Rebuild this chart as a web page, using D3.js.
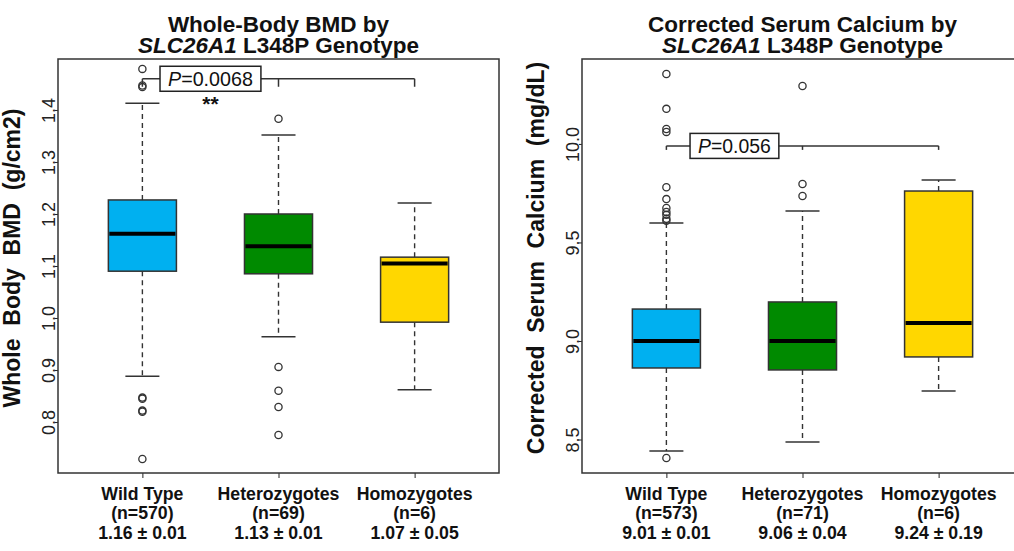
<!DOCTYPE html>
<html><head><meta charset="utf-8">
<script src="https://cdn.jsdelivr.net/npm/d3@7"></script>
<style>
body{margin:0;background:#fff;}
svg text{font-family:"Liberation Sans",Arial,sans-serif;}
</style></head>
<body><svg id="c" width="1014" height="551"></svg>
<script>
// ---------- DATA ----------
const groups = ["Wild Type","Heterozygotes","Homozygotes"];
const colors = ["#00B0F0","#008A00","#FFD700"];

// Panel A: Whole-body BMD
const bmdN = ["(n=570)","(n=69)","(n=6)"];
const bmdMeans = ["1.16 \u00B1 0.01","1.13 \u00B1 0.01","1.07 \u00B1 0.05"];
const bmdLowerWhisker = [0.888,0.964,0.862];
const bmdQ1 = [1.090,1.085,0.992];
const bmdMedian = [1.162,1.138,1.105];
const bmdQ3 = [1.227,1.200,1.117];
const bmdUpperWhisker = [1.413,1.352,1.221];
const bmdOutliers = [
  [1.479,1.447,1.444,0.847,0.845,0.822,0.820,0.729],
  [1.383,0.906,0.860,0.829,0.775],
  []
];
const bmdTicks = [0.8,0.9,1.0,1.1,1.2,1.3,1.4];
const bmdTickLabels = ["0.8","0.9","1.0","1.1","1.2","1.3","1.4"];
const bmdP = "0.0068";
const bmdPLevel = 1.46;

// Panel B: Corrected serum calcium
const caN = ["(n=573)","(n=71)","(n=6)"];
const caMeans = ["9.01 \u00B1 0.01","9.06 \u00B1 0.04","9.24 \u00B1 0.19"];
const caLowerWhisker = [8.442,8.487,8.746];
const caQ1 = [8.863,8.853,8.919];
const caMedian = [9.000,9.000,9.091];
const caQ3 = [9.162,9.198,9.761];
const caUpperWhisker = [9.599,9.660,9.817];
const caOutliers = [
  [10.355,10.178,10.076,10.061,9.780,9.720,9.675,9.655,9.640,9.620,9.610,8.406],
  [10.294,9.797,9.736],
  []
];
const caTicks = [8.5,9.0,9.5,10.0];
const caTickLabels = ["8.5","9.0","9.5","10.0"];
const caP = "0.056";
const caPLevel = 9.99;

// ---------- DRAW ----------
const svg = d3.select("#c");
const ink = "#222";

function panel(o){
  const g = svg.append("g");
  const x = d3.scaleLinear().domain([0.38,3.62]).range([o.left,o.right]);
  const y = d3.scaleLinear().domain(o.ylim).range([o.bottom,o.top]);
  const cx = i => x(i+1);
  const hw = x(1.25)-x(1);   // box half width
  const sw = x(1.125)-x(1);  // staple half width

  // title
  const mid = (o.left+o.right)/2;
  const t = g.append("text").attr("text-anchor","middle")
    .style("font-weight","bold").style("font-size","22.5px").attr("fill","#111");
  t.append("tspan").attr("x",mid).attr("y",32).text(o.title1);
  const t2 = t.append("tspan").attr("x",mid).attr("y",52.5);
  t2.append("tspan").style("font-style","italic").text("SLC26A1");
  t2.append("tspan").text(" L348P Genotype");

  // y-axis label
  g.append("text").attr("transform",`translate(${o.left-38},${(o.top+o.bottom)/2 - 8}) rotate(-90)`)
    .attr("text-anchor","middle").style("font-weight","bold").style("font-size","23px")
    .attr("fill","#111").attr("xml:space","preserve").text(o.ylab);

  // y axis
  const ya = g.append("g").attr("transform",`translate(${o.left},0)`)
    .call(d3.axisLeft(y).tickValues(o.ticks).tickFormat((d,i)=>o.tickLabels[i]).tickSize(3).tickSizeOuter(0));
  ya.select(".domain").remove();
  ya.selectAll(".tick line").attr("stroke",ink);
  ya.selectAll(".tick text").attr("transform","rotate(-90)").attr("x",0).attr("y",-3).attr("dy",0)
    .attr("text-anchor","middle").style("font-size","18px").attr("fill","#222");

  // x axis ticks
  const xa = g.append("g").attr("transform",`translate(0,${o.bottom})`)
    .call(d3.axisBottom(x).tickValues([1,2,3]).tickFormat("").tickSize(5).tickSizeOuter(0));
  xa.select(".domain").remove();
  xa.selectAll(".tick line").attr("stroke",ink);

  // x labels
  groups.forEach((name,i)=>{
    const lt = g.append("text").attr("text-anchor","middle").style("font-weight","bold")
      .style("font-size","17.7px").attr("fill","#111");
    lt.append("tspan").attr("x",cx(i)).attr("y",500).text(name);
    lt.append("tspan").attr("x",cx(i)).attr("y",519).text(o.n[i]);
    lt.append("tspan").attr("x",cx(i)).attr("y",538.5).text(o.means[i]);
  });

  // boxes
  groups.forEach((name,i)=>{
    const c = cx(i);
    g.append("line").attr("x1",c).attr("x2",c).attr("y1",y(o.q3[i])).attr("y2",y(o.uw[i]))
      .attr("stroke","#333").attr("stroke-width",1.4).attr("stroke-dasharray","5,4");
    g.append("line").attr("x1",c).attr("x2",c).attr("y1",y(o.q1[i])).attr("y2",y(o.lw[i]))
      .attr("stroke","#333").attr("stroke-width",1.4).attr("stroke-dasharray","5,4");
    [o.uw[i],o.lw[i]].forEach(v=>{
      g.append("line").attr("x1",c-sw).attr("x2",c+sw).attr("y1",y(v)).attr("y2",y(v))
        .attr("stroke","#333").attr("stroke-width",1.5);
    });
    g.append("rect").attr("x",c-hw).attr("width",2*hw).attr("y",y(o.q3[i]))
      .attr("height",y(o.q1[i])-y(o.q3[i])).attr("fill",colors[i])
      .attr("stroke","#333").attr("stroke-width",1.5);
    g.append("line").attr("x1",c-hw+1).attr("x2",c+hw-1).attr("y1",y(o.med[i])).attr("y2",y(o.med[i]))
      .attr("stroke","#000").attr("stroke-width",4);
    o.out[i].forEach(v=>{
      g.append("circle").attr("cx",c).attr("cy",y(v)).attr("r",3.6)
        .attr("fill","none").attr("stroke","#333").attr("stroke-width",1.3);
    });
  });

  // P-value bracket
  const py = y(o.pLevel);
  g.append("line").attr("x1",cx(0)).attr("x2",cx(2)).attr("y1",py).attr("y2",py)
    .attr("stroke","#333").attr("stroke-width",1.5);
  [0,1,2].forEach(i=>{
    g.append("line").attr("x1",cx(i)).attr("x2",cx(i)).attr("y1",py).attr("y2",py+o.tick)
      .attr("stroke","#333").attr("stroke-width",1.5);
  });
  const bx = x(1.5);
  const box = g.append("rect");
  const pt = g.append("text").attr("x",bx).attr("y",py+7).attr("text-anchor","middle")
    .style("font-size",o.pSize+"px").attr("fill","#111");
  pt.append("tspan").style("font-style","italic").text("P");
  pt.append("tspan").text("="+o.p);
  const bb = pt.node().getBBox();
  box.attr("x",bb.x-8).attr("y",py-12.5).attr("width",bb.width+16).attr("height",25)
    .attr("fill","#fff").attr("stroke","#222").attr("stroke-width",1.5);
  if(o.stars){
    g.append("text").attr("x",bx).attr("y",py+32).attr("text-anchor","middle")
      .style("font-size","21px").style("font-weight","bold").attr("fill","#111").text(o.stars);
  }

  // plot frame
  g.append("rect").attr("x",o.left).attr("y",o.top).attr("width",o.right-o.left)
    .attr("height",o.bottom-o.top).attr("fill","none").attr("stroke","#333").attr("stroke-width",1.5);
}

panel({left:58,right:499,top:59,bottom:473,ylim:[0.702,1.498],
  title1:"Whole-Body BMD by", ylab:"Whole  Body  BMD  (g/cm2)",
  ticks:bmdTicks,tickLabels:bmdTickLabels,n:bmdN,means:bmdMeans,
  lw:bmdLowerWhisker,q1:bmdQ1,med:bmdMedian,q3:bmdQ3,uw:bmdUpperWhisker,out:bmdOutliers,
  p:bmdP,pLevel:bmdPLevel,pSize:19.7,tick:8,stars:"**"});

panel({left:582,right:1023,top:59,bottom:473,ylim:[8.330,10.431],
  title1:"Corrected Serum Calcium by", ylab:"Corrected  Serum  Calcium  (mg/dL)",
  ticks:caTicks,tickLabels:caTickLabels,n:caN,means:caMeans,
  lw:caLowerWhisker,q1:caQ1,med:caMedian,q3:caQ3,uw:caUpperWhisker,out:caOutliers,
  p:caP,pLevel:caPLevel,pSize:19.4,tick:4,stars:null});
</script></body></html>
